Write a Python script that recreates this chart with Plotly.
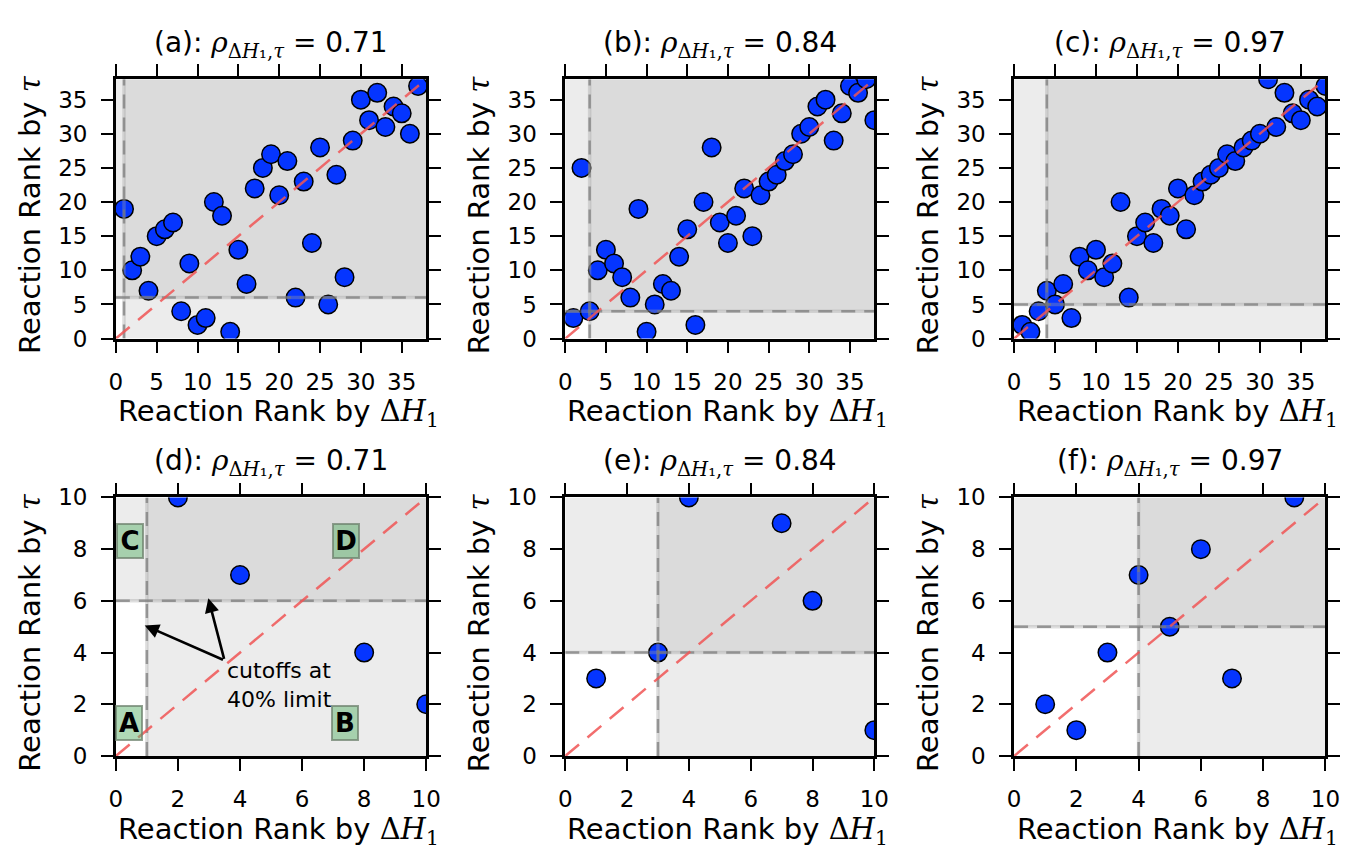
import plotly.graph_objects as go

W, H = 1358, 858
OFF = 8  # page body margin shifts the figure by 8 px in the photograph

# ---------------- data ----------------
rank_a_x = list(range(1, 38))
rank_a_y = [19, 10, 12, 7, 15, 16, 17, 4, 11, 2, 3, 20, 18, 1, 13, 8, 22, 25, 27, 21,
            26, 6, 23, 14, 28, 5, 24, 9, 29, 35, 32, 36, 31, 34, 33, 30, 37]
rank_b_x = list(range(1, 39))
rank_b_y = [3, 25, 4, 10, 13, 11, 9, 6, 19, 1, 5, 8, 7, 12, 16, 2, 20, 28, 17, 14,
            18, 22, 15, 21, 23, 24, 26, 27, 30, 31, 34, 35, 29, 33, 37, 36, 38, 32]
rank_c_x = list(range(1, 39))
rank_c_y = [2, 1, 4, 7, 5, 8, 3, 12, 10, 13, 9, 11, 20, 6, 15, 17, 14, 19, 18, 22,
            16, 21, 23, 24, 25, 27, 26, 28, 29, 30, 38, 31, 36, 33, 32, 35, 34, 37]
rho_values = ["0.71", "0.84", "0.97"]
cutoff_x = [1, 3, 4]
cutoff_y = [6, 4, 5]
panel_letters = ["a", "b", "c", "d", "e", "f"]
full_max = 38
zoom_max = 10
full_ticks = [0, 5, 10, 15, 20, 25, 30, 35]
zoom_ticks = [0, 2, 4, 6, 8, 10]
quadrant_labels = ["A", "B", "C", "D"]
quadrant_pos_x = [0.44, 7.39, 0.47, 7.42]
quadrant_pos_y = [1.27, 1.27, 8.32, 8.32]
annot_text = "cutoffs at<br>40% limit"
annot_text_pos = (3.53, 2.76)
arrow_tail = (3.5, 3.7)
arrow_heads = [(0.93, 5.05), (2.98, 6.1)]

datasets = [(rank_a_x, rank_a_y), (rank_b_x, rank_b_y), (rank_c_x, rank_c_y)]

# ---------------- layout geometry (screen px of target) ----------------
col_px = [(110.5, 426.0), (567.3, 881.5), (1023.5, 1340.0)]
row_px = [(68.0, 335.5), (499.3, 766.0)]


def px_x(X):
    return (X - OFF) / W


def px_y(Y):
    return 1 - (Y - OFF) / H


fig = go.Figure()
shapes = []
annotations = []

serif = "font-family:'DejaVu Serif'"
rho_html = f"<span style=\"{serif}\"><i>ρ</i><sub>Δ<i>H</i>₁,<i>τ</i></sub></span>"
xlab_html = f"Reaction Rank by <span style=\"{serif}\">Δ<i>H</i><sub>1</sub></span>"
ylab_html = f"Reaction Rank by <span style=\"{serif}\"><i>τ</i></span>"

BLUE = "#0535ff"
title_font = dict(family="DejaVu Sans", size=28, color="black")
label_font = dict(family="DejaVu Sans", size=29, color="black")
tick_font = dict(family="DejaVu Sans", size=23, color="black")

for r in range(2):
    for c in range(3):
        idx = r * 3 + c + 1
        xa = "x" if idx == 1 else f"x{idx}"
        ya = "y" if idx == 1 else f"y{idx}"
        xs, ys = datasets[c]
        vmax = full_max if r == 0 else zoom_max
        ticks = full_ticks if r == 0 else zoom_ticks
        cx, cy = cutoff_x[c], cutoff_y[c]
        X0, X1 = col_px[c]
        Y0, Y1 = row_px[r]
        xdom = [px_x(X0), px_x(X1)]
        ydom = [px_y(Y1), px_y(Y0)]

        axis_common = dict(showgrid=False, zeroline=False, showline=True, linecolor="black",
                           linewidth=2.5, mirror="ticks", ticks="outside", ticklen=12,
                           tickwidth=1.6, tickcolor="black", tickfont=tick_font,
                           tickvals=ticks, range=[0, vmax], fixedrange=True,
                           ticklabelstandoff=9)
        fig.layout[f"xaxis{'' if idx == 1 else idx}"] = dict(domain=xdom, anchor=ya, **axis_common)
        fig.layout[f"yaxis{'' if idx == 1 else idx}"] = dict(domain=ydom, anchor=xa, **axis_common)

        # quadrant shading
        shade = "rgba(128,128,128,0.15)"
        shapes.append(dict(type="rect", xref=xa, yref=ya, x0=cx, x1=vmax, y0=0, y1=vmax,
                           fillcolor=shade, line=dict(width=0), layer="below"))
        shapes.append(dict(type="rect", xref=xa, yref=ya, x0=0, x1=vmax, y0=cy, y1=vmax,
                           fillcolor=shade, line=dict(width=0), layer="below"))

        # points
        fig.add_trace(go.Scatter(x=xs, y=ys, mode="markers", xaxis=xa, yaxis=ya,
                                 marker=dict(size=18.5, color=BLUE,
                                             line=dict(color="black", width=1.5)),
                                 showlegend=False, hoverinfo="x+y"))
        # cutoff lines: soft solid underlay + dashed grey
        for col, wdt, dash in [("rgba(160,160,160,0.35)", 3.5, "solid"),
                               ("rgba(120,120,120,0.7)", 2.5, "14px,9px")]:
            fig.add_trace(go.Scatter(x=[cx, cx], y=[0, vmax], mode="lines", xaxis=xa, yaxis=ya,
                                     line=dict(color=col, width=wdt, dash=dash),
                                     showlegend=False, hoverinfo="skip"))
            fig.add_trace(go.Scatter(x=[0, vmax], y=[cy, cy], mode="lines", xaxis=xa, yaxis=ya,
                                     line=dict(color=col, width=wdt, dash=dash),
                                     showlegend=False, hoverinfo="skip"))
        # diagonal y = x
        fig.add_trace(go.Scatter(x=[0, vmax], y=[0, vmax], mode="lines", xaxis=xa, yaxis=ya,
                                 line=dict(color="rgba(240,85,85,0.85)", width=2.5, dash="18px,11px"),
                                 showlegend=False, hoverinfo="skip"))

        # title
        annotations.append(dict(text=f"({panel_letters[idx-1]}): {rho_html} = {rho_values[c]}",
                                xref="paper", yref="paper", x=px_x((X0 + X1) / 2),
                                y=px_y(Y0 - 36), xanchor="center", yanchor="middle",
                                showarrow=False, font=title_font))
        # axis labels
        annotations.append(dict(text=xlab_html, xref="paper", yref="paper",
                                x=px_x((X0 + X1) / 2 + 8), y=px_y(Y1 + 77),
                                xanchor="center", yanchor="middle", showarrow=False, font=label_font))
        annotations.append(dict(text=ylab_html, xref="paper", yref="paper",
                                x=px_x(X0 - 88), y=px_y((Y0 + Y1) / 2 + 6),
                                xanchor="center", yanchor="middle", textangle=-90,
                                showarrow=False, font=label_font))

# panel (d): quadrant labels
for lab, qx, qy in zip(quadrant_labels, quadrant_pos_x, quadrant_pos_y):
    annotations.append(dict(text=f"<b>{lab}</b>", xref="x4", yref="y4", x=qx, y=qy,
                            showarrow=False, font=dict(family="DejaVu Sans", size=26, color="black"),
                            width=24, height=32, borderpad=0,
                            bgcolor="rgba(95,180,110,0.5)", bordercolor="rgba(110,130,110,0.75)",
                            borderwidth=2))
# panel (d): arrows and note
for hx, hy in arrow_heads:
    annotations.append(dict(text="", xref="x4", yref="y4", x=hx, y=hy,
                            axref="x4", ayref="y4", ax=arrow_tail[0], ay=arrow_tail[1],
                            showarrow=True, arrowhead=2, arrowsize=1.1, arrowwidth=2.6,
                            arrowcolor="black", standoff=0, startstandoff=0))
annotations.append(dict(text=annot_text, xref="x4", yref="y4", x=annot_text_pos[0], y=annot_text_pos[1],
                        xanchor="left", yanchor="middle", align="left", showarrow=False,
                        font=dict(family="DejaVu Sans", size=22, color="black")))

fig.update_layout(width=W, height=H, margin=dict(l=0, r=0, t=0, b=0),
                  paper_bgcolor="white", plot_bgcolor="white",
                  shapes=shapes, annotations=annotations, showlegend=False)

fig.write_html("out.html")
